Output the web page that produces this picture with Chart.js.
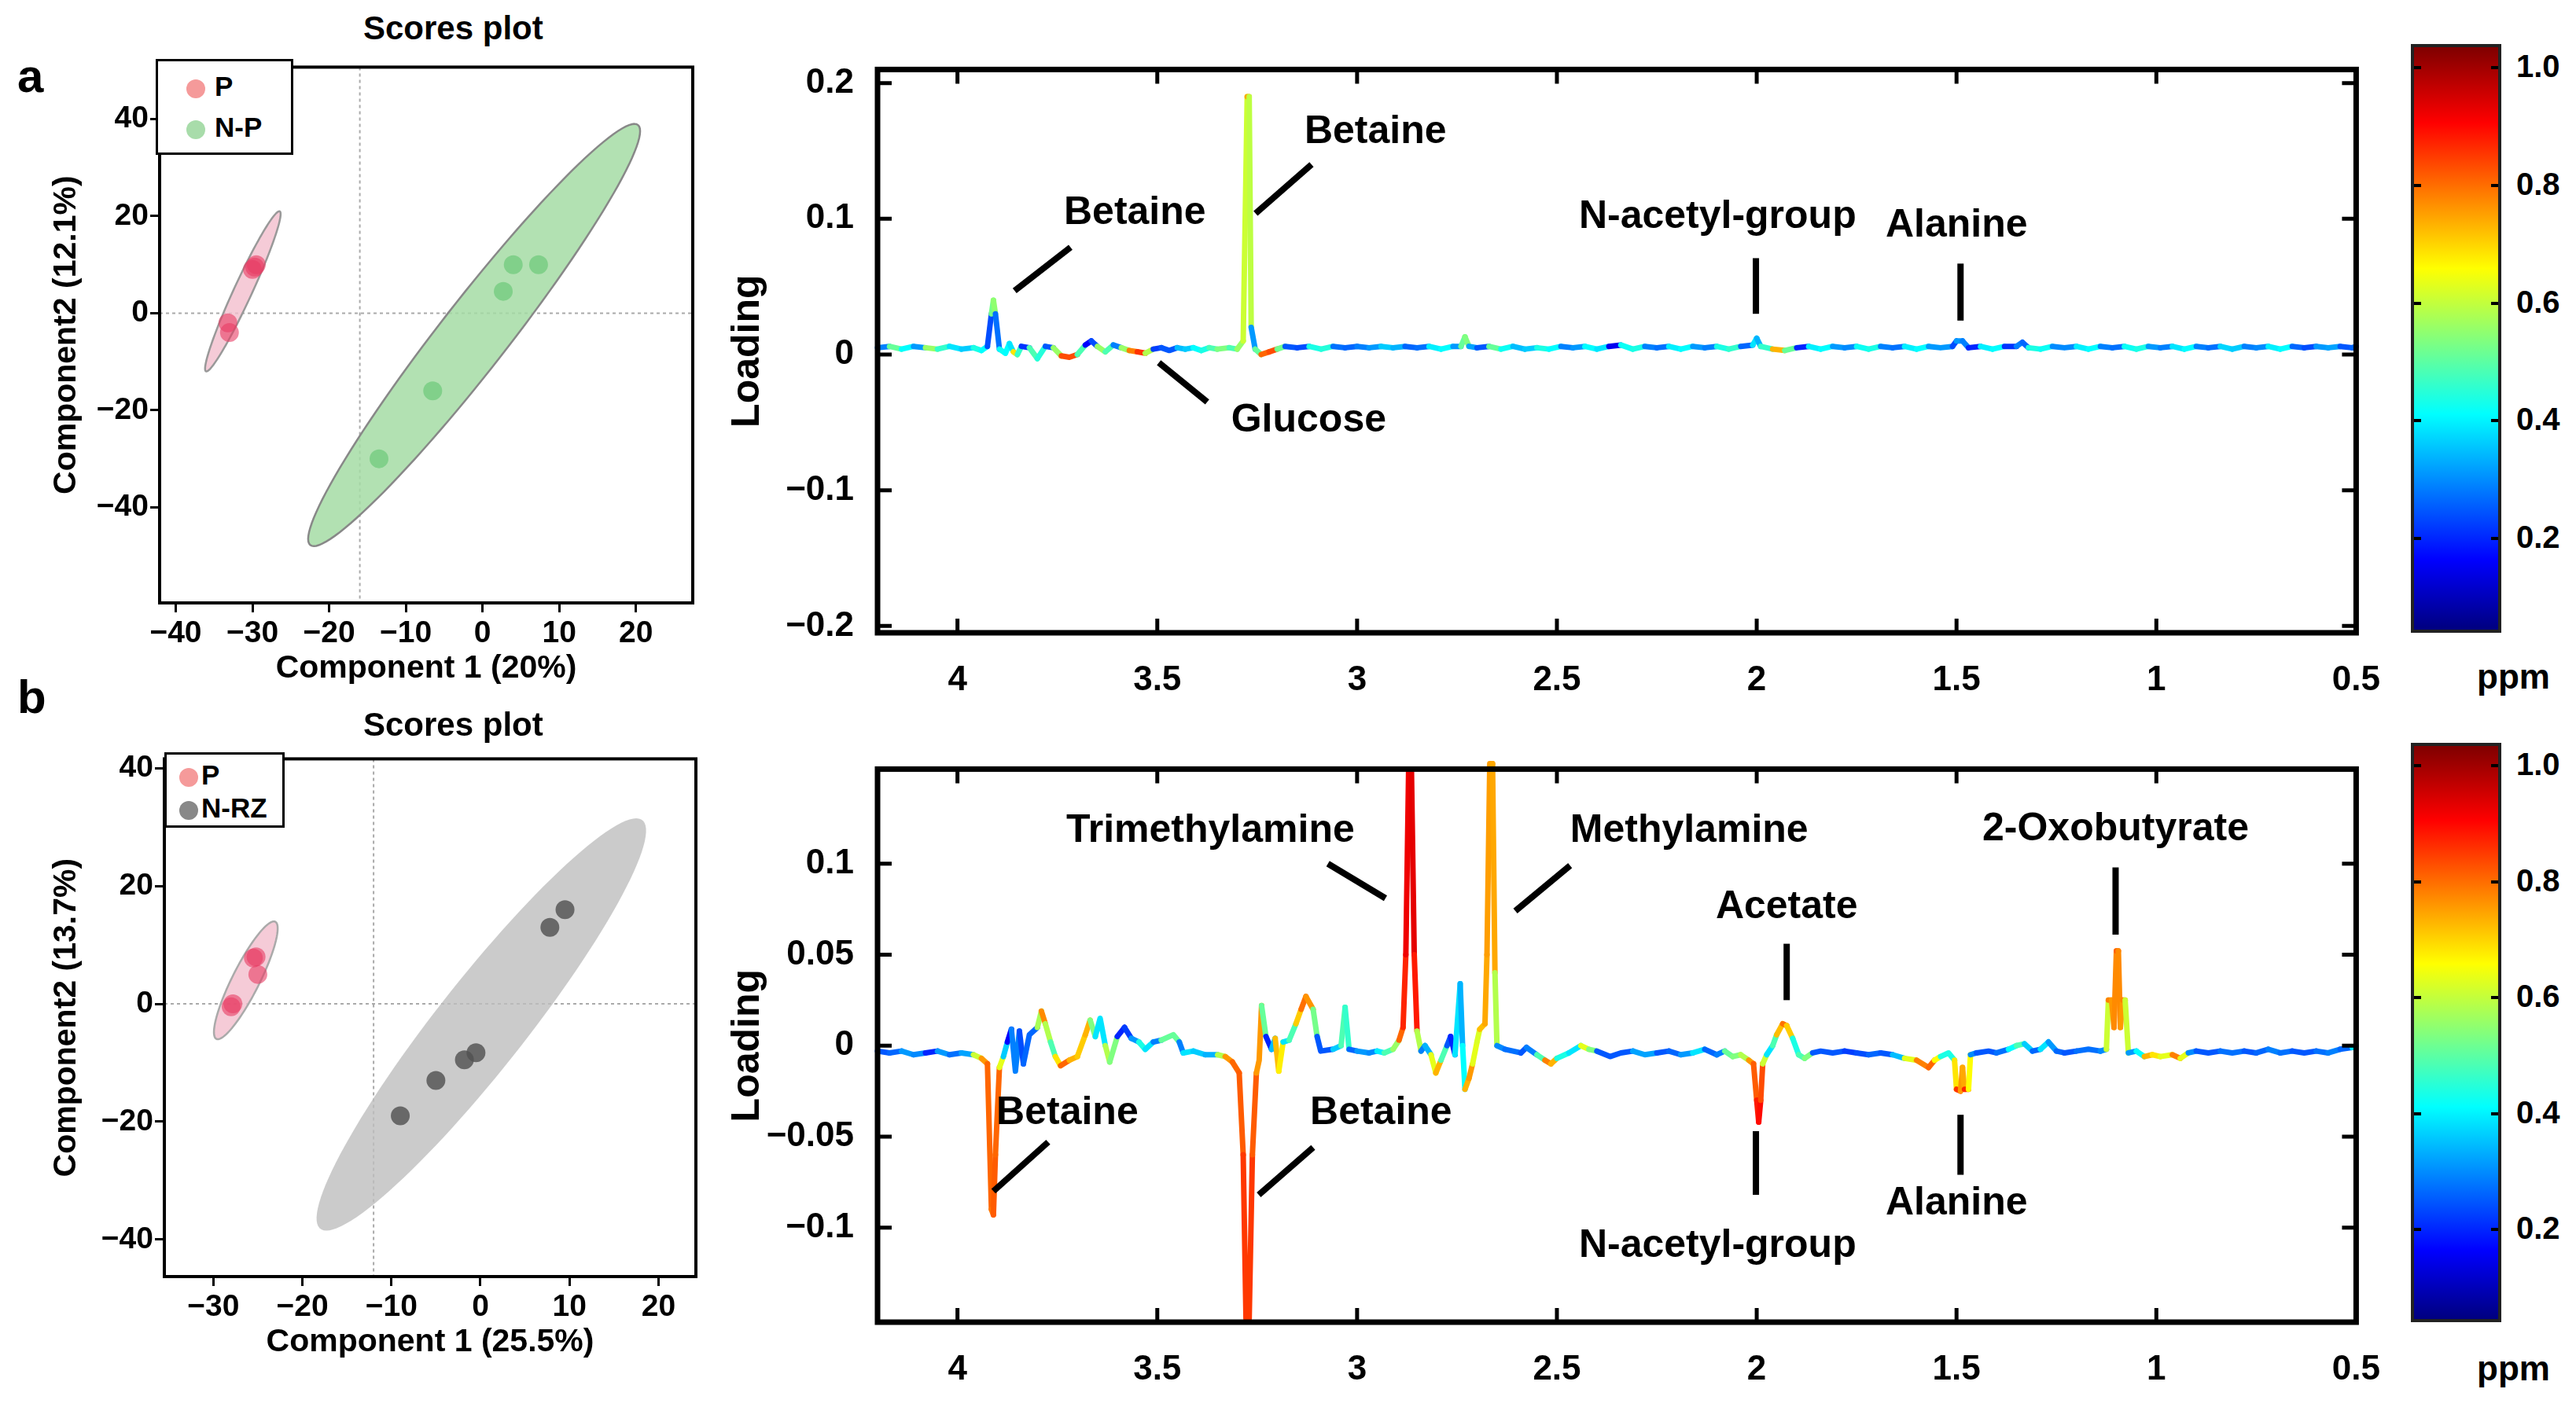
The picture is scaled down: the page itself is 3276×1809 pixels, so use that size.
<!DOCTYPE html>
<html><head><meta charset="utf-8">
<script src="https://cdn.jsdelivr.net/npm/chart.js@4"></script>
<style>
body{margin:0;width:3276px;height:1809px;background:#fff;position:relative;overflow:hidden;font-family:"Liberation Sans",Arial,sans-serif;font-weight:bold}
canvas{position:absolute}
.t{position:absolute;white-space:nowrap;color:#000}
.cb{position:absolute;border:4px solid #222;box-sizing:border-box;background:linear-gradient(to top,#00007f 0%,#0000ff 12%,#00ffff 37%,#ffff00 62%,#ff0000 87%,#7f0000 100%)}
.leg{position:absolute;border:3px solid #000;background:#fff;box-sizing:border-box}
.dot{display:inline-block;width:24px;height:24px;border-radius:50%;vertical-align:middle;margin-right:12px}
</style></head><body>
<canvas id="sa" width="833" height="819" style="left:60px;top:60px"></canvas>
<canvas id="sb" width="837" height="796" style="left:60px;top:940px"></canvas>
<canvas id="la" width="2132" height="855" style="left:921px;top:40px"></canvas>
<canvas id="lb" width="2132" height="842" style="left:921px;top:930px"></canvas>
<script>
// ---------------- DATA ----------------
const xTicksPpm=[4,3.5,3,2.5,2,1.5,1,0.5];
const yTicksA=[-0.2,-0.1,0,0.1,0.2];
const yTicksB=[-0.1,-0.05,0,0.05,0.1];
const scoreTicksA_x=[-40,-30,-20,-10,0,10,20];
const scoreTicksA_y=[-40,-20,0,20,40];
const scoreTicksB_x=[-30,-20,-10,0,10,20];
const scoreTicksB_y=[-40,-20,0,20,40];
const colorbarTicks=[0.2,0.4,0.6,0.8,1.0];

// scores a
const a_P=[[-29.5,10],[-30,9],[-33.2,-2],[-33,-4],[-29.7,9.5]];
const a_NP=[[4,10],[7.3,10],[2.7,4.5],[-6.5,-16],[-13.5,-30]];
const a_ellP={cx:-31.25,cy:4.5,ax:4.75,ay:16.5,bx:1.3,by:0};
const a_ellNP={cx:-1.1,cy:-4.5,ax:20.9,ay:43.5,bx:5.6,by:0};
// scores b
const b_P=[[-28,-0.5],[-27.8,0],[-25.5,7.8],[-25.2,8],[-25,5]];
const b_NRZ=[[-9,-19],[-5,-13],[-1.8,-9.5],[-0.5,-8.3],[7.8,13],[9.5,16]];
const b_ellP={cx:-26.35,cy:4,ax:3.15,ay:10,bx:1.7,by:0};
const b_ellNRZ={cx:0.1,cy:-3.5,ax:17.4,ay:35,bx:6.3,by:0};

// spectrum a: [ppm, loading, colour value]
const specA=[[4.20,.005,.15],[4.17,.006,.35],[4.14,.004,.6],[4.11,.006,.15],[4.08,.005,.4],[4.05,.004,.65],[4.02,.006,.2],[3.99,.004,.5],[3.96,.005,.15],[3.94,.003,.65],[3.925,.006,.1],[3.915,.03,.3],[3.91,.04,.68],[3.905,.03,.35],[3.895,.004,.12],[3.88,.001,.65],[3.87,.008,.1],[3.86,.002,.6],[3.85,0,.7],[3.84,.006,.15],[3.82,.005,.2],[3.80,-.003,.7],[3.78,.006,.12],[3.76,.005,.3],[3.74,-.001,.75],[3.72,-.002,.85],[3.70,0,.75],[3.68,.007,.15],[3.665,.01,.1],[3.65,.006,.3],[3.63,.002,.75],[3.61,.007,.15],[3.59,.005,.35],[3.57,.003,.7],[3.55,.002,.8],[3.53,.001,.85],[3.51,.004,.25],[3.49,.005,.12],[3.47,.003,.3],[3.45,.005,.12],[3.43,.004,.5],[3.41,.005,.15],[3.39,.003,.6],[3.37,.005,.2],[3.35,.004,.7],[3.32,.005,.3],[3.30,.004,.6],[3.285,.01,.45],[3.275,.19,.7],[3.27,.19,.72],[3.265,.02,.4],[3.255,.004,.15],[3.24,0,.8],[3.22,.002,.75],[3.20,.004,.85],[3.18,.006,.12],[3.15,.005,.3],[3.12,.006,.1],[3.09,.004,.7],[3.06,.006,.12],[3.03,.005,.35],[3.0,.006,.1],[2.97,.005,.4],[2.94,.006,.15],[2.91,.005,.5],[2.88,.006,.1],[2.85,.005,.35],[2.82,.006,.12],[2.79,.004,.6],[2.76,.006,.15],[2.74,.006,.4],[2.73,.013,.55],[2.72,.006,.45],[2.70,.005,.12],[2.67,.006,.3],[2.64,.004,.65],[2.61,.006,.12],[2.58,.004,.5],[2.55,.005,.15],[2.52,.004,.65],[2.49,.006,.1],[2.46,.005,.4],[2.43,.006,.15],[2.40,.004,.6],[2.37,.006,.1],[2.34,.007,.12],[2.31,.004,.65],[2.28,.006,.15],[2.25,.005,.35],[2.22,.006,.12],[2.19,.004,.6],[2.16,.006,.15],[2.13,.005,.4],[2.10,.006,.1],[2.07,.004,.7],[2.04,.006,.15],[2.01,.007,.3],[2.0,.012,.4],[1.99,.006,.2],[1.96,.004,.65],[1.93,.003,.75],[1.90,.005,.2],[1.87,.006,.12],[1.84,.004,.6],[1.81,.006,.15],[1.78,.005,.4],[1.75,.006,.12],[1.72,.004,.65],[1.69,.006,.15],[1.66,.005,.35],[1.63,.006,.12],[1.60,.004,.6],[1.57,.006,.15],[1.54,.005,.4],[1.51,.006,.15],[1.50,.01,.25],[1.485,.01,.3],[1.47,.005,.2],[1.44,.006,.12],[1.41,.004,.6],[1.38,.006,.15],[1.35,.006,.2],[1.335,.009,.3],[1.32,.005,.15],[1.29,.004,.65],[1.26,.006,.12],[1.23,.005,.4],[1.20,.006,.12],[1.17,.004,.6],[1.14,.006,.15],[1.11,.005,.35],[1.08,.006,.12],[1.05,.004,.65],[1.02,.006,.15],[0.99,.005,.4],[0.96,.006,.1],[0.93,.004,.6],[0.90,.006,.15],[0.87,.005,.35],[0.84,.006,.12],[0.81,.004,.55],[0.78,.006,.1],[0.75,.005,.4],[0.72,.006,.12],[0.69,.004,.6],[0.66,.006,.15],[0.63,.005,.3],[0.60,.006,.1],[0.57,.005,.45],[0.54,.006,.12],[0.51,.005,.3],[0.50,.006,.15]];

// spectrum b
const specB=[[4.20,-.003,.12],[4.17,-.004,.3],[4.14,-.003,.15],[4.11,-.005,.4],[4.08,-.004,.12],[4.05,-.003,.2],[4.02,-.005,.35],[3.99,-.004,.12],[3.96,-.005,.45],[3.94,-.007,.7],[3.925,-.01,.75],[3.915,-.09,.8],[3.91,-.093,.72],[3.905,-.06,.85],[3.895,-.012,.7],[3.885,-.006,.5],[3.875,.002,.15],[3.865,.009,.1],[3.855,-.014,.4],[3.845,.008,.1],[3.835,-.01,.3],[3.82,.006,.15],[3.80,.01,.3],[3.79,.019,.78],[3.78,.012,.7],[3.767,.002,.4],[3.755,-.006,.5],[3.742,-.011,.8],[3.72,-.008,.75],[3.70,-.006,.65],[3.68,.006,.7],[3.668,.014,.7],[3.655,.005,.3],[3.643,.015,.4],[3.63,0,.3],[3.619,-.009,.8],[3.60,.005,.2],[3.582,.01,.12],[3.565,.004,.25],[3.546,.002,.3],[3.53,-.002,.5],[3.51,.002,.2],[3.49,.003,.3],[3.46,.006,.65],[3.445,.002,.3],[3.435,-.004,.2],[3.41,-.003,.5],[3.38,-.005,.15],[3.349,-.005,.45],[3.33,-.006,.65],[3.312,-.009,.8],[3.295,-.015,.75],[3.285,-.06,.82],[3.278,-.15,.82],[3.27,-.15,.82],[3.262,-.06,.82],[3.252,-.015,.75],[3.245,-.008,.7],[3.239,.022,.75],[3.228,.005,.2],[3.214,-.002,.12],[3.205,.004,.5],[3.196,-.014,.88],[3.185,.002,.4],[3.17,.003,.3],[3.153,.012,.6],[3.14,.02,.75],[3.128,.027,.78],[3.11,.02,.68],[3.1,.005,.3],[3.091,-.003,.12],[3.06,-.002,.3],[3.04,0,.35],[3.03,.021,.55],[3.02,-.002,.3],[3.0,-.003,.15],[2.97,-.004,.4],[2.95,-.003,.12],[2.932,-.004,.6],[2.91,-.002,.3],[2.895,.003,.75],[2.885,.01,.8],[2.878,.05,.88],[2.871,.152,.9],[2.864,.152,.9],[2.857,.05,.9],[2.85,.008,.8],[2.84,-.003,.3],[2.83,0,.2],[2.815,-.005,.4],[2.803,-.015,.8],[2.79,-.008,.6],[2.775,0,.3],[2.766,.005,.12],[2.755,-.005,.2],[2.742,.034,.5],[2.736,0,.1],[2.73,-.024,.65],[2.72,-.018,.75],[2.711,-.01,.7],[2.70,.002,.5],[2.693,.009,.68],[2.68,.012,.7],[2.675,.05,.72],[2.668,.155,.72],[2.661,.155,.72],[2.655,.04,.7],[2.65,0,.4],[2.63,-.002,.12],[2.61,-.003,.35],[2.59,-.004,.12],[2.576,-.001,.3],[2.55,-.005,.2],[2.53,-.008,.7],[2.515,-.01,.8],[2.50,-.007,.6],[2.47,-.004,.2],[2.44,0,.5],[2.42,-.002,.7],[2.40,-.003,.3],[2.367,-.006,.12],[2.34,-.004,.3],[2.31,-.003,.12],[2.28,-.005,.45],[2.25,-.004,.12],[2.22,-.003,.3],[2.19,-.005,.15],[2.16,-.004,.4],[2.13,-.002,.3],[2.10,-.005,.15],[2.08,-.003,.35],[2.06,-.006,.6],[2.04,-.005,.4],[2.02,-.008,.7],[2.008,-.01,.75],[2.0,-.03,.82],[1.995,-.042,.88],[1.99,-.03,.85],[1.985,-.01,.75],[1.975,-.005,.4],[1.96,0,.3],[1.95,.006,.6],[1.935,.012,.78],[1.925,.011,.75],[1.91,.004,.6],[1.895,-.005,.2],[1.88,-.007,.7],[1.86,-.004,.3],[1.84,-.003,.12],[1.81,-.004,.3],[1.78,-.003,.12],[1.75,-.004,.25],[1.72,-.005,.15],[1.69,-.004,.3],[1.66,-.005,.12],[1.63,-.007,.5],[1.60,-.008,.7],[1.57,-.012,.8],[1.555,-.008,.75],[1.54,-.006,.5],[1.52,-.004,.3],[1.505,-.008,.5],[1.50,-.024,.8],[1.49,-.025,.85],[1.485,-.012,.6],[1.48,-.024,.82],[1.47,-.024,.85],[1.465,-.005,.4],[1.45,-.004,.12],[1.42,-.003,.3],[1.40,-.004,.12],[1.37,-.002,.35],[1.35,0,.4],[1.33,.001,.5],[1.31,-.003,.15],[1.29,-.002,.3],[1.27,.002,.4],[1.25,-.003,.15],[1.23,-.004,.3],[1.20,-.003,.12],[1.17,-.002,.35],[1.14,-.003,.12],[1.125,-.002,.4],[1.12,.025,.75],[1.112,.025,.75],[1.106,.01,.7],[1.10,.052,.78],[1.095,.052,.78],[1.09,.01,.7],[1.084,.025,.75],[1.078,.025,.75],[1.07,-.004,.4],[1.05,-.003,.15],[1.03,-.006,.6],[1.01,-.005,.8],[0.99,-.006,.5],[0.96,-.005,.7],[0.94,-.007,.8],[0.92,-.004,.4],[0.90,-.003,.12],[0.87,-.004,.3],[0.84,-.003,.12],[0.81,-.004,.35],[0.78,-.003,.12],[0.75,-.004,.3],[0.72,-.002,.15],[0.69,-.004,.35],[0.66,-.003,.12],[0.63,-.004,.3],[0.60,-.003,.12],[0.57,-.004,.35],[0.54,-.002,.15],[0.51,-.001,.3],[0.50,0,.4]];

// annotations: label position (ppm,val), leader line (x1,y1)->(x2,y2)
const annA=[
 {t:"Betaine",x:3.556,y:0.104,l:[3.857,0.047,3.717,0.079]},
 {t:"Betaine",x:2.954,y:0.164,l:[3.254,0.104,3.114,0.140]},
 {t:"Glucose",x:3.121,y:-0.049,l:[3.496,-0.006,3.375,-0.035]},
 {t:"N-acetyl-group",x:2.098,y:0.101,l:[2.002,0.071,2.002,0.030]},
 {t:"Alanine",x:1.50,y:0.095,l:[1.49,0.067,1.49,0.025]}];
const annB=[
 {t:"Trimethylamine",x:3.367,y:0.118,l:[3.073,0.100,2.929,0.081]},
 {t:"Methylamine",x:2.169,y:0.118,l:[2.467,0.099,2.604,0.074]},
 {t:"Acetate",x:1.925,y:0.076,l:[1.925,0.056,1.925,0.025]},
 {t:"2-Oxobutyrate",x:1.102,y:0.119,l:[1.102,0.098,1.102,0.061]},
 {t:"Betaine",x:3.725,y:-0.037,l:[3.773,-0.053,3.91,-0.080]},
 {t:"Betaine",x:2.94,y:-0.037,l:[3.11,-0.056,3.246,-0.082]},
 {t:"N-acetyl-group",x:2.098,y:-0.110,l:[2.002,-0.047,2.002,-0.082]},
 {t:"Alanine",x:1.50,y:-0.087,l:[1.49,-0.038,1.49,-0.071]}];

// ---------------- HELPERS ----------------
Chart.defaults.font.family='"Liberation Sans", Arial, sans-serif';
Chart.defaults.font.weight='bold';
Chart.defaults.color='#000';
const FF='"Liberation Sans", Arial, sans-serif';
function cl(v){return Math.max(0,Math.min(1,v));}
function jet(v){const r=cl(1.5-Math.abs(4*v-3)),g=cl(1.5-Math.abs(4*v-2)),b=cl(1.5-Math.abs(4*v-1));
 return `rgb(${Math.round(r*255)},${Math.round(g*255)},${Math.round(b*255)})`;}
const fmt=v=>(v<0?'\u2212':'')+String(Math.abs(v));
function fixTicks(arr){return s=>{s.ticks=arr.map(v=>({value:v}));};}

const specPlugin={id:'spec',afterDraw(c,args,o){
 const ctx=c.ctx,a=c.chartArea,xs=c.scales.x,ys=c.scales.y;
 ctx.save();ctx.strokeStyle='#000';ctx.lineWidth=7;ctx.lineCap='butt';
 ctx.strokeRect(a.left,a.top,a.right-a.left,a.bottom-a.top);
 ctx.lineWidth=5;const L=18;
 xs.ticks.forEach(t=>{const p=xs.getPixelForValue(t.value);ctx.beginPath();ctx.moveTo(p,a.bottom);ctx.lineTo(p,a.bottom-L);ctx.moveTo(p,a.top);ctx.lineTo(p,a.top+L);ctx.stroke();});
 ys.ticks.forEach(t=>{const p=ys.getPixelForValue(t.value);ctx.beginPath();ctx.moveTo(a.left,p);ctx.lineTo(a.left+L,p);ctx.moveTo(a.right,p);ctx.lineTo(a.right-L,p);ctx.stroke();});
 ctx.fillStyle='#000';ctx.font='bold 50px '+FF;ctx.textAlign='center';ctx.textBaseline='middle';ctx.lineWidth=8;
 o.ann.forEach(n=>{ctx.fillText(n.t,xs.getPixelForValue(n.x),ys.getPixelForValue(n.y));
  ctx.beginPath();ctx.moveTo(xs.getPixelForValue(n.l[0]),ys.getPixelForValue(n.l[1]));ctx.lineTo(xs.getPixelForValue(n.l[2]),ys.getPixelForValue(n.l[3]));ctx.stroke();});
 ctx.restore();}};

function spectrum(id,pts,yt,ymin,ymax,ann){
 const col=pts.map(p=>p[2]);
 new Chart(document.getElementById(id),{type:'line',
  data:{datasets:[{data:pts.map(p=>({x:p[0],y:p[1]})),borderWidth:7,pointRadius:0,tension:0,borderJoinStyle:'round',borderCapStyle:'round',
   segment:{borderColor:c=>jet((col[c.p0DataIndex]+col[c.p1DataIndex])/2)}}]},
  options:{responsive:false,animation:false,devicePixelRatio:1,clip:false,
   layout:{padding:{top:16,right:12}},
   plugins:{legend:{display:false},tooltip:{enabled:false},spec:{ann}},
   scales:{
    x:{type:'linear',reverse:true,min:0.5,max:4.2,afterBuildTicks:fixTicks(xTicksPpm),afterFit:s=>{s.height=90;},
       grid:{display:false},border:{display:false},ticks:{font:{size:44},padding:26,maxRotation:0,callback:v=>fmt(v)}},
    y:{min:ymin,max:ymax,afterBuildTicks:fixTicks(yt),afterFit:s=>{s.width=195;},
       grid:{display:false},border:{display:false},ticks:{font:{size:44},padding:22,callback:v=>fmt(v)},
       title:{display:true,text:'Loading',font:{size:50},padding:{top:0,bottom:0}}}}},
  plugins:[specPlugin]});
}
spectrum('la',specA,yTicksA,-0.205,0.21,annA);
spectrum('lb',specB,yTicksB,-0.152,0.152,annB);

const scorePlugin={id:'score',beforeDatasetsDraw(c,args,o){
 const ctx=c.ctx,a=c.chartArea,xs=c.scales.x,ys=c.scales.y;
 ctx.save();ctx.beginPath();ctx.rect(a.left,a.top,a.right-a.left,a.bottom-a.top);ctx.clip();
 ctx.setLineDash([4,4]);ctx.strokeStyle='#aaa';ctx.lineWidth=2;
 ctx.beginPath();const px=xs.getPixelForValue(o.cross);ctx.moveTo(px,a.top);ctx.lineTo(px,a.bottom);
 const py=ys.getPixelForValue(0);ctx.moveTo(a.left,py);ctx.lineTo(a.right,py);ctx.stroke();ctx.setLineDash([]);
 o.ells.forEach(e=>{ctx.beginPath();
  for(let i=0;i<=120;i++){const t=i/120*2*Math.PI,x=e.cx+Math.cos(t)*e.ax+Math.sin(t)*e.bx,y=e.cy+Math.cos(t)*e.ay+Math.sin(t)*e.by;
   const X=xs.getPixelForValue(x),Y=ys.getPixelForValue(y);i?ctx.lineTo(X,Y):ctx.moveTo(X,Y);}
  ctx.closePath();ctx.fillStyle=e.fill;ctx.fill();if(e.stroke){ctx.strokeStyle=e.stroke;ctx.lineWidth=2.5;ctx.stroke();}});
 ctx.restore();},
 afterDraw(c){const ctx=c.ctx,a=c.chartArea;ctx.save();ctx.strokeStyle='#000';ctx.lineWidth=4;ctx.strokeRect(a.left,a.top,a.right-a.left,a.bottom-a.top);ctx.restore();}};

function scores(id,sets,xr,yr,xt,yt,xl,yl,ells,cross,yw,pt){
 new Chart(document.getElementById(id),{type:'scatter',
  data:{datasets:sets.map(s=>({data:s.d.map(p=>({x:p[0],y:p[1]})),backgroundColor:s.c,borderWidth:0,pointRadius:12}))},
  options:{responsive:false,animation:false,devicePixelRatio:1,layout:{padding:{top:pt,right:6}},
   plugins:{legend:{display:false},tooltip:{enabled:false},score:{ells,cross}},
   scales:{
    x:{min:xr[0],max:xr[1],afterBuildTicks:fixTicks(xt),afterFit:s=>{s.height=112;},
       grid:{drawOnChartArea:false,tickLength:12,color:'#000',lineWidth:3},border:{display:false},
       ticks:{font:{size:39},padding:4,maxRotation:0,callback:v=>fmt(v)},
       title:{display:true,text:xl,font:{size:41},padding:{top:0}}},
    y:{min:yr[0],max:yr[1],afterBuildTicks:fixTicks(yt),afterFit:s=>{s.width=yw;},
       grid:{drawOnChartArea:false,tickLength:12,color:'#000',lineWidth:3},border:{display:false},
       ticks:{font:{size:39},padding:2,callback:v=>fmt(v)},
       title:{display:true,text:yl,font:{size:41},padding:{top:0,bottom:0}}}}},
  plugins:[scorePlugin]});
}
scores('sa',[{d:a_P,c:'rgba(232,60,100,0.6)'},{d:a_NP,c:'rgba(90,195,105,0.55)'}],[-42.1,27.4],[-59.7,50.7],
 scoreTicksA_x,scoreTicksA_y,'Component 1 (20%)','Component2 (12.1%)',
 [Object.assign({fill:'rgba(242,190,205,0.8)',stroke:'#999'},a_ellP),Object.assign({fill:'rgba(165,220,165,0.85)',stroke:'#888'},a_ellNP)],-16,143,15);
scores('sb',[{d:b_P,c:'rgba(232,60,100,0.6)'},{d:b_NRZ,c:'rgba(80,80,80,0.8)'}],[-35.5,24.2],[-46.3,41.6],
 scoreTicksB_x,scoreTicksB_y,'Component 1 (25.5%)','Component2 (13.7%)',
 [Object.assign({fill:'rgba(242,190,205,0.8)',stroke:'#aaa'},b_ellP),Object.assign({fill:'rgba(190,190,190,0.8)'},b_ellNRZ)],-12,149,17);

// colorbars
function colorbar(top,h){
 const d=document.createElement('div');d.className='cb';d.style.cssText=`left:3066px;top:${top}px;width:115px;height:${h}px`;document.body.appendChild(d);
 const vmin=0.04,vmax=1.04;
 colorbarTicks.forEach(v=>{const y=top+h*(vmax-v)/(vmax-vmin);
  const t=document.createElement('div');t.className='t';t.style.cssText=`left:3200px;top:${y-24}px;font-size:40px`;t.textContent=v.toFixed(1);document.body.appendChild(t);
  ['3070px','3168px'].forEach(l=>{const m=document.createElement('div');m.style.cssText=`position:absolute;left:${l};top:${y-2}px;width:9px;height:4px;background:#000`;document.body.appendChild(m);});});
}
colorbar(56,749);colorbar(945,737);
</script>
<div class="t" style="left:22px;top:62px;font-size:60px">a</div>
<div class="t" style="left:22px;top:852px;font-size:60px">b</div>
<div class="t" style="left:462px;top:12px;font-size:42px">Scores plot</div>
<div class="t" style="left:462px;top:898px;font-size:42px">Scores plot</div>
<div class="t" style="left:3150px;top:836px;font-size:44px">ppm</div>
<div class="t" style="left:3150px;top:1716px;font-size:44px">ppm</div>
<div class="leg" style="left:198px;top:75px;width:175px;height:122px">
 <div style="position:absolute;left:36px;top:12px;font-size:35px"><span class="dot" style="background:#f59a9a"></span>P</div>
 <div style="position:absolute;left:36px;top:64px;font-size:35px"><span class="dot" style="background:#a8dcaa"></span>N-P</div></div>
<div class="leg" style="left:209px;top:957px;width:153px;height:96px">
 <div style="position:absolute;left:16px;top:6px;font-size:35px"><span class="dot" style="background:#f59a9a;margin-right:4px"></span>P</div>
 <div style="position:absolute;left:16px;top:48px;font-size:35px"><span class="dot" style="background:#888;margin-right:4px"></span>N-RZ</div></div>
</body></html>
